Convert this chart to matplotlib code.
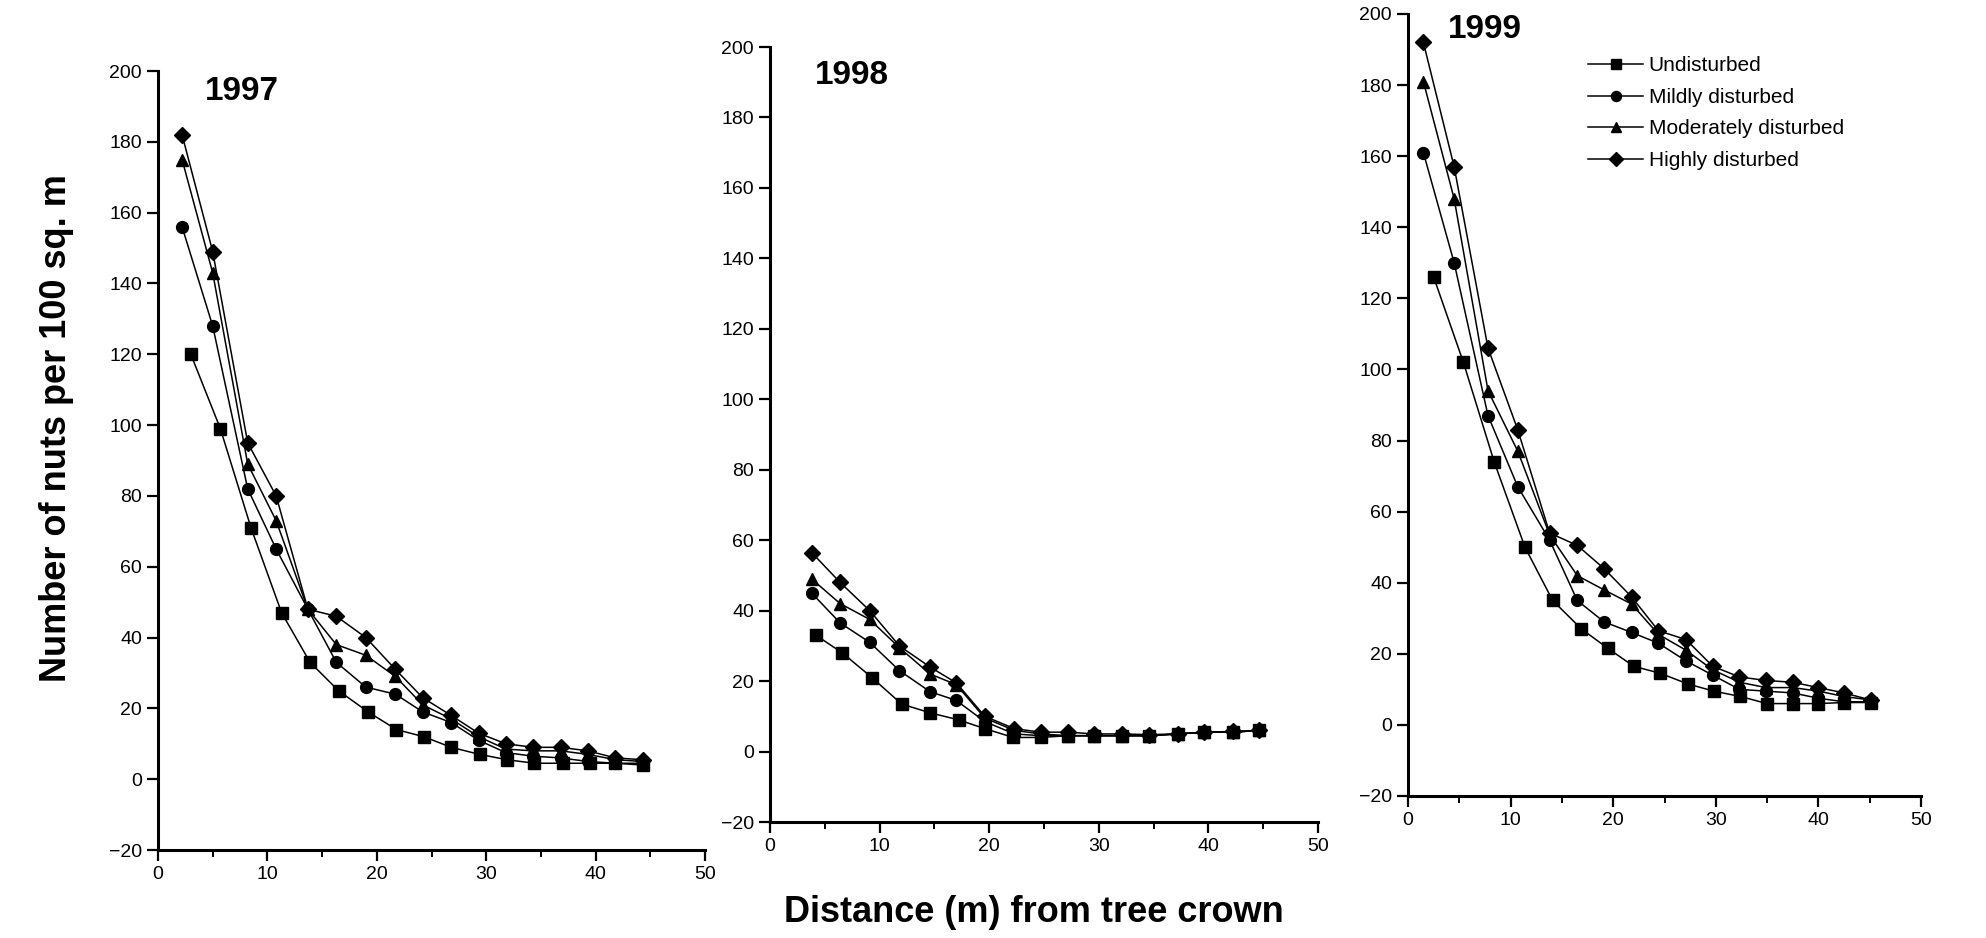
#!/usr/bin/env python3
"""Nut density vs distance from tree crown, three years."""
import matplotlib
matplotlib.use("Agg")
import matplotlib.pyplot as plt
from matplotlib.ticker import MultipleLocator

plt.rcParams.update({
    "font.family": ["Liberation Sans", "DejaVu Sans"],
    "font.size": 14,
})

SERIES = ["Undisturbed", "Mildly disturbed", "Moderately disturbed", "Highly disturbed"]
MARKERS = ["s", "o", "^", "D"]

# distances (m); undisturbed points sit slightly right
DIST_97 = [2.2, 5.0, 8.2, 10.8, 13.7, 16.3, 19.0, 21.7, 24.2, 26.8, 29.3, 31.8, 34.3, 36.8, 39.3, 41.8, 44.3]
DIST_97_U = [3.0, 5.7, 8.5, 11.3, 13.9, 16.5, 19.2, 21.8, 24.3, 26.8, 29.4, 31.9, 34.4, 37.0, 39.5, 41.8, 44.3]
DIST_98 = [3.8, 6.4, 9.1, 11.8, 14.6, 17.0, 19.6, 22.3, 24.7, 27.2, 29.6, 32.1, 34.6, 37.2, 39.6, 42.2, 44.6]
DIST_98_U = [4.2, 6.6, 9.3, 12.0, 14.6, 17.2, 19.6, 22.2, 24.7, 27.2, 29.6, 32.1, 34.6, 37.2, 39.6, 42.2, 44.6]
DIST_99 = [1.5, 4.5, 7.8, 10.7, 13.8, 16.5, 19.1, 21.8, 24.4, 27.1, 29.7, 32.3, 34.9, 37.5, 40.0, 42.5, 45.1]
DIST_99_U = [2.5, 5.4, 8.4, 11.4, 14.1, 16.9, 19.5, 22.0, 24.6, 27.3, 29.8, 32.4, 35.0, 37.5, 40.0, 42.5, 45.1]

# nuts per 100 sq. m
Y97_U = [120, 99, 71, 47, 33, 25, 19, 14, 12, 9, 7, 5.5, 4.5, 4.5, 4.5, 4.5, 4]
Y97_M = [156, 128, 82, 65, 48, 33, 26, 24, 19, 16, 11, 7.5, 6.5, 6, 5, 4.5, 4.5]
Y97_MOD = [175, 143, 89, 73, 48, 38, 35, 29, 21, 17, 12, 8.5, 8, 8, 7, 5.5, 5]
Y97_H = [182, 149, 95, 80, 48, 46, 40, 31, 23, 18, 13, 10, 9, 9, 8, 6, 5.5]

Y98_U = [33, 28, 21, 13.5, 11, 9, 6.5, 4, 4, 4.5, 4.5, 4.5, 4.5, 5, 5.5, 5.5, 6]
Y98_M = [45, 36.5, 31, 23, 17, 14.5, 8.5, 5, 4.5, 4.5, 4.5, 4.5, 4.5, 5, 5.5, 5.5, 6]
Y98_MOD = [49, 42, 37.5, 29.5, 22, 19, 9.5, 6, 5, 4.5, 4.5, 4.5, 4.5, 5, 5.5, 5.5, 6]
Y98_H = [56.5, 48, 40, 30, 24, 19.5, 10, 6.5, 5.5, 5.5, 5, 5, 4.8, 5, 5.5, 5.7, 6]

Y99_U = [126, 102, 74, 50, 35, 27, 21.5, 16.5, 14.5, 11.5, 9.5, 8, 6, 6, 6, 6.3, 6.3]
Y99_M = [161, 130, 87, 67, 52, 35, 29, 26, 23, 18, 14, 10, 9.5, 9, 7.5, 6.5, 6.5]
Y99_MOD = [181, 148, 94, 77, 53.5, 42, 38, 34, 25.5, 21, 15.5, 12, 10.5, 10.5, 9.5, 8, 7]
Y99_H = [192, 157, 106, 83, 54, 50.5, 44, 36, 26.5, 24, 16.5, 13.5, 12.5, 12, 10.5, 9, 7]

YEARS = ["1997", "1998", "1999"]

W, H = 1986, 938
fig = plt.figure(figsize=(W / 100, H / 100), dpi=100)


def px_axes(left, top, right, bottom):
    return fig.add_axes([left / W, 1 - bottom / H, (right - left) / W, (bottom - top) / H])


def panel(ax, xs_u, xs, ys):
    for i, (y, m, lab) in enumerate(zip(ys, MARKERS, SERIES)):
        x = xs_u if i == 0 else xs
        ms = 8 if m == "D" else 8.5
        ax.plot(x, y, marker=m, color="black", lw=1.1, ms=ms, label=lab)
    ax.set_xlim(0, 50)
    ax.set_ylim(-20, 200)
    ax.spines[["top", "right"]].set_visible(False)
    for s in ("left", "bottom"):
        ax.spines[s].set_linewidth(2.2)
    ax.xaxis.set_major_locator(MultipleLocator(10))
    ax.xaxis.set_minor_locator(MultipleLocator(5))
    ax.yaxis.set_major_locator(MultipleLocator(20))
    ax.tick_params(axis="both", which="major", direction="out", length=8, width=1.6, labelsize=14)
    ax.tick_params(axis="x", which="minor", direction="out", length=5, width=1.4)
    ax.margins(0)


ax1 = px_axes(158, 71, 705, 850)
ax2 = px_axes(770, 47, 1318, 822)
ax3 = px_axes(1408, 14, 1921, 796)

panel(ax1, DIST_97_U, DIST_97, [Y97_U, Y97_M, Y97_MOD, Y97_H])
panel(ax2, DIST_98_U, DIST_98, [Y98_U, Y98_M, Y98_MOD, Y98_H])
panel(ax3, DIST_99_U, DIST_99, [Y99_U, Y99_M, Y99_MOD, Y99_H])

# year labels
for (x, y), yr in zip([(242, 91), (852, 76), (1485, 30)], YEARS):
    fig.text(x / W, 1 - y / H, yr, ha="center", va="center",
             fontsize=24, fontweight="bold")

ax3.legend(loc="upper left", bbox_to_anchor=(1578 / W, 1 - 46 / H),
           bbox_transform=fig.transFigure, frameon=False, fontsize=15,
           handlelength=2.6, handletextpad=0.3, labelspacing=0.6,
           borderpad=0, markerscale=0.85)

fig.text(57 / W, 1 - 428 / H, "Number of nuts per 100 sq. m", rotation=90,
         ha="center", va="center", fontsize=26, fontweight="bold")
fig.text(1034 / W, 1 - 912 / H, "Distance (m) from tree crown",
         ha="center", va="center", fontsize=26, fontweight="bold")

fig.savefig("out.png", dpi=100)
